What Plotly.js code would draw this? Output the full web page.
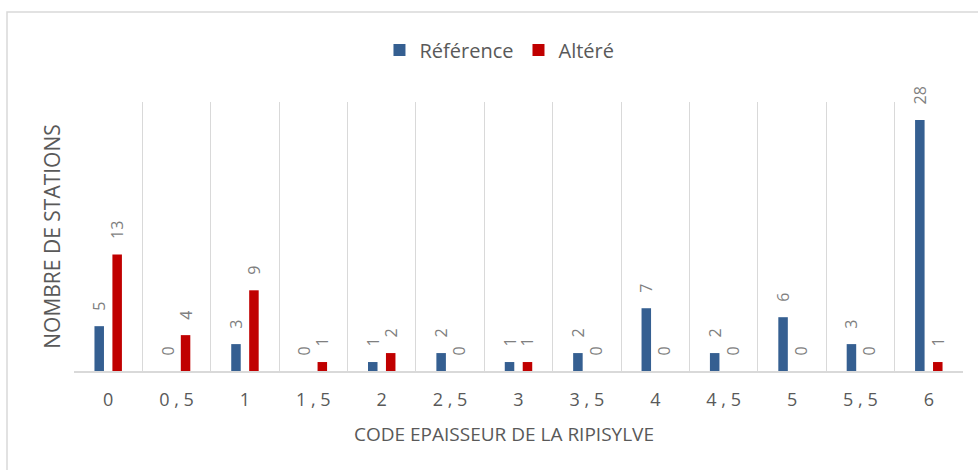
<!DOCTYPE html>
<html>
<head>
<meta charset="utf-8">
<script src="https://cdn.plot.ly/plotly-3.0.1.min.js"></script>
<style>
  html, body { margin: 0; padding: 0; background: #ffffff; }
  #chart { width: 978px; height: 470px; }
</style>
</head>
<body>
<div id="chart"></div>
<script>
const categories = ["0", "0 , 5", "1", "1 , 5", "2", "2 , 5", "3", "3 , 5", "4", "4 , 5", "5", "5 , 5", "6"];
const reference = [5, 0, 3, 0, 1, 2, 1, 2, 7, 2, 6, 3, 28];
const altere = [13, 4, 9, 1, 2, 0, 1, 0, 0, 0, 0, 0, 1];
const seriesNames = ["Référence", "Altéré"];
const xTitle = "CODE EPAISSEUR DE LA RIPISYLVE";
const yTitle = "NOMBRE DE STATIONS";

const FONT = "'Open Sans', 'Noto Sans', sans-serif";
const labelFont = { family: FONT, size: 16, color: "#7f7f7f" };
const PAD = "\u00a0\u00a0\u00a0";

function barTrace(name, values, color) {
  return {
    type: "bar", name: name, x: categories, y: values,
    marker: { color: color },
    text: values.map(v => PAD + String(v)), texttemplate: "%{text}",
    textposition: "outside", textangle: -90, constraintext: "none",
    cliponaxis: false, textfont: labelFont, hoverinfo: "x+y"
  };
}

const traces = [
  barTrace(seriesNames[0], reference, "#355f91"),
  barTrace(seriesNames[1], altere, "#c00000")
];

const layout = {
  width: 978, height: 470,
  margin: { l: 74, r: 15, t: 102, b: 99, pad: 0 },
  paper_bgcolor: "#ffffff", plot_bgcolor: "#ffffff",
  font: { family: FONT, color: "#595959" },
  barmode: "group", bargap: 0.475, bargroupgap: 0.47,
  showlegend: true,
  legend: {
    orientation: "h", x: 0.4786, xanchor: "center", y: 1.193, yanchor: "middle",
    font: { family: FONT, size: 20, color: "#595959" },
    itemwidth: 30, traceorder: "normal"
  },
  xaxis: {
    type: "category", range: [-0.5, 12.5],
    tickson: "boundaries", ticks: "", showgrid: true, gridcolor: "#d9d9d9", gridwidth: 1,
    showline: true, linecolor: "#d9d9d9", linewidth: 1.5,
    tickfont: { family: FONT, size: 18, color: "#595959" },
    ticklabelstandoff: 12,
    fixedrange: true
  },
  yaxis: {
    range: [0, 30], showgrid: false, zeroline: false, showticklabels: false, ticks: "",
    showline: false,
    title: { text: yTitle, font: { family: FONT, size: 21, color: "#595959" }, standoff: 6 },
    fixedrange: true
  },
  annotations: [
    { text: xTitle, xref: "paper", yref: "paper", x: 0.4837, y: -0.234,
      xanchor: "center", yanchor: "middle", showarrow: false,
      font: { family: FONT, size: 19, color: "#595959" } }
  ],
  shapes: [
    { type: "rect", xref: "paper", yref: "paper",
      x0: (7 - 74) / 889, x1: (990 - 74) / 889,
      y0: (371 - 480) / 269, y1: (371 - 12) / 269,
      line: { color: "#d9d9d9", width: 1.5 }, fillcolor: "rgba(0,0,0,0)", layer: "below" }
  ]
};

Plotly.newPlot("chart", traces, layout, { displayModeBar: false, staticPlot: true });
</script>
</body>
</html>
